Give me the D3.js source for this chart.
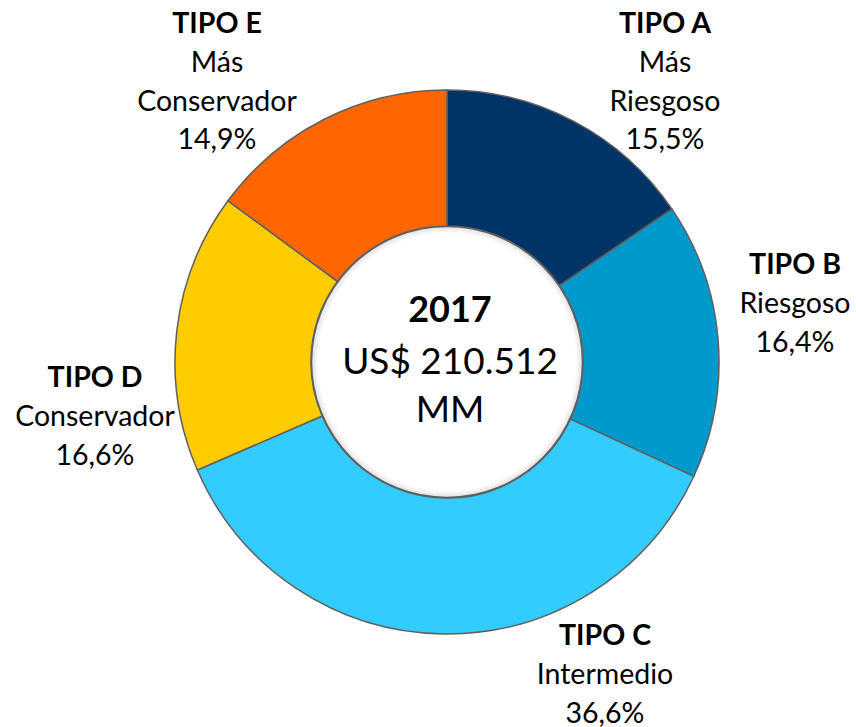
<!DOCTYPE html>
<html>
<head>
<meta charset="utf-8">
<script src="https://cdn.jsdelivr.net/npm/d3@7"></script>
<style>
  body { margin: 0; background: #fff; }
  text { font-family: Lato, "Open Sans", sans-serif; fill: #000; }
</style>
</head>
<body>
<svg id="chart" width="856" height="727"></svg>
<script>
// data
var tipos = ["TIPO A", "TIPO B", "TIPO C", "TIPO D", "TIPO E"];
var descripciones = [["Más", "Riesgoso"], ["Riesgoso"], ["Intermedio"], ["Conservador"], ["Más", "Conservador"]];
var porcentajes = [15.5, 16.4, 36.6, 16.6, 14.9];
var colores = ["#003366", "#0099CC", "#33CCFF", "#FFCC00", "#FF6600"];
var centroTexto = ["2017", "US$ 210.512", "MM"];

var svg = d3.select("#chart");
var cx = 447, cy = 362, rOut = 272, rIn = 136;

var data = tipos.map(function(t, i){
    return {tipo: t, desc: descripciones[i], value: porcentajes[i], color: colores[i]};
});

var pie = d3.pie().sort(null).value(d => d.value);
var arc = d3.arc().innerRadius(rIn).outerRadius(rOut);

var g = svg.append("g").attr("transform", "translate(" + cx + "," + cy + ")");

// soft shadow on the hole edge
var defs = svg.append("defs");
var grad = defs.append("radialGradient").attr("id", "hole");
grad.append("stop").attr("offset", "0.95").attr("stop-color", "#fff");
grad.append("stop").attr("offset", "1").attr("stop-color", "#e0e0e0");

g.selectAll("path.slice")
    .data(pie(data))
    .join("path")
    .attr("class", "slice")
    .attr("d", arc)
    .style("fill", d => d.data.color)
    .style("stroke", "#5f5f5f")
    .style("stroke-width", 1.5);

g.append("circle")
    .attr("r", rIn - 0.5)
    .style("fill", "url(#hole)")
    .style("stroke", "#5f5f5f")
    .style("stroke-width", 1.5);

// label block centre (x) and baseline of first line (y), page pixels
var labelPos = [
    {x: 665, y: 33},
    {x: 795, y: 274},
    {x: 605, y: 645},
    {x: 95,  y: 387},
    {x: 217, y: 33}
];

var lineH = 38.8;
var labels = svg.selectAll("g.lab")
    .data(pie(data))
    .join("g")
    .attr("class", "lab")
    .attr("transform", (d, i) => "translate(" + labelPos[i].x + "," + labelPos[i].y + ")");

labels.each(function(d){
    var lines = [d.data.tipo].concat(d.data.desc, [d3.format(".1f")(d.data.value).replace(".", ",") + "%"]);
    d3.select(this).selectAll("text")
        .data(lines)
        .join("text")
        .attr("text-anchor", "middle")
        .attr("y", (l, k) => k * lineH)
        .style("font-size", "28.5px")
        .style("font-weight", (l, k) => k == 0 ? "bold" : "normal")
        .text(l => l);
});

var centroY = [322, 374, 422];
g.selectAll("text.centro")
    .data(centroTexto)
    .join("text")
    .attr("class", "centro")
    .attr("text-anchor", "middle")
    .attr("x", 3)
    .attr("y", (t, k) => centroY[k] - cy)
    .style("font-size", (t, k) => k == 0 ? "36px" : "37px")
    .style("font-weight", (t, k) => k == 0 ? "bold" : "normal")
    .text(t => t);
</script>
</body>
</html>
